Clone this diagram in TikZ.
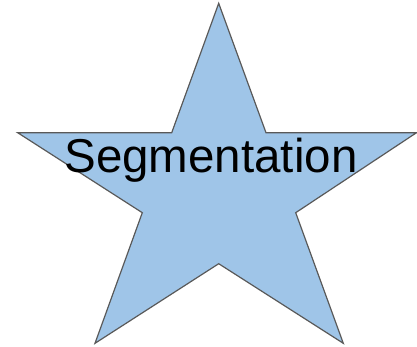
\documentclass[tikz,border=0pt]{standalone}
\usepackage{fontspec}
\setmainfont{Liberation Sans}
\usetikzlibrary{positioning}
\definecolor{starblue}{HTML}{9FC5E8}
\definecolor{stargray}{HTML}{595959}

\begin{document}
\begin{tikzpicture}[
    x=1pt,y=-1pt,
    starshape/.style={fill=starblue,draw=stargray,line width=1.2pt,line join=miter},
    title/.style={inner sep=0pt,anchor=base,font=\fontsize{47.5}{57}\selectfont}
]
    \useasboundingbox (0,0) rectangle (417,346);

    \draw[starshape] (218.7,3.3) -- (266,132.7) -- (416.5,132.7) -- (295.7,212.7)
        -- (343.3,343.3) -- (218.7,263.7) -- (95,343.3) -- (142.3,212.7)
        -- (17.7,132.7) -- (171.7,132.7) -- cycle;

    \node[title] (seg) at (211,172.7) {Segmentation};
\end{tikzpicture}
\end{document}
